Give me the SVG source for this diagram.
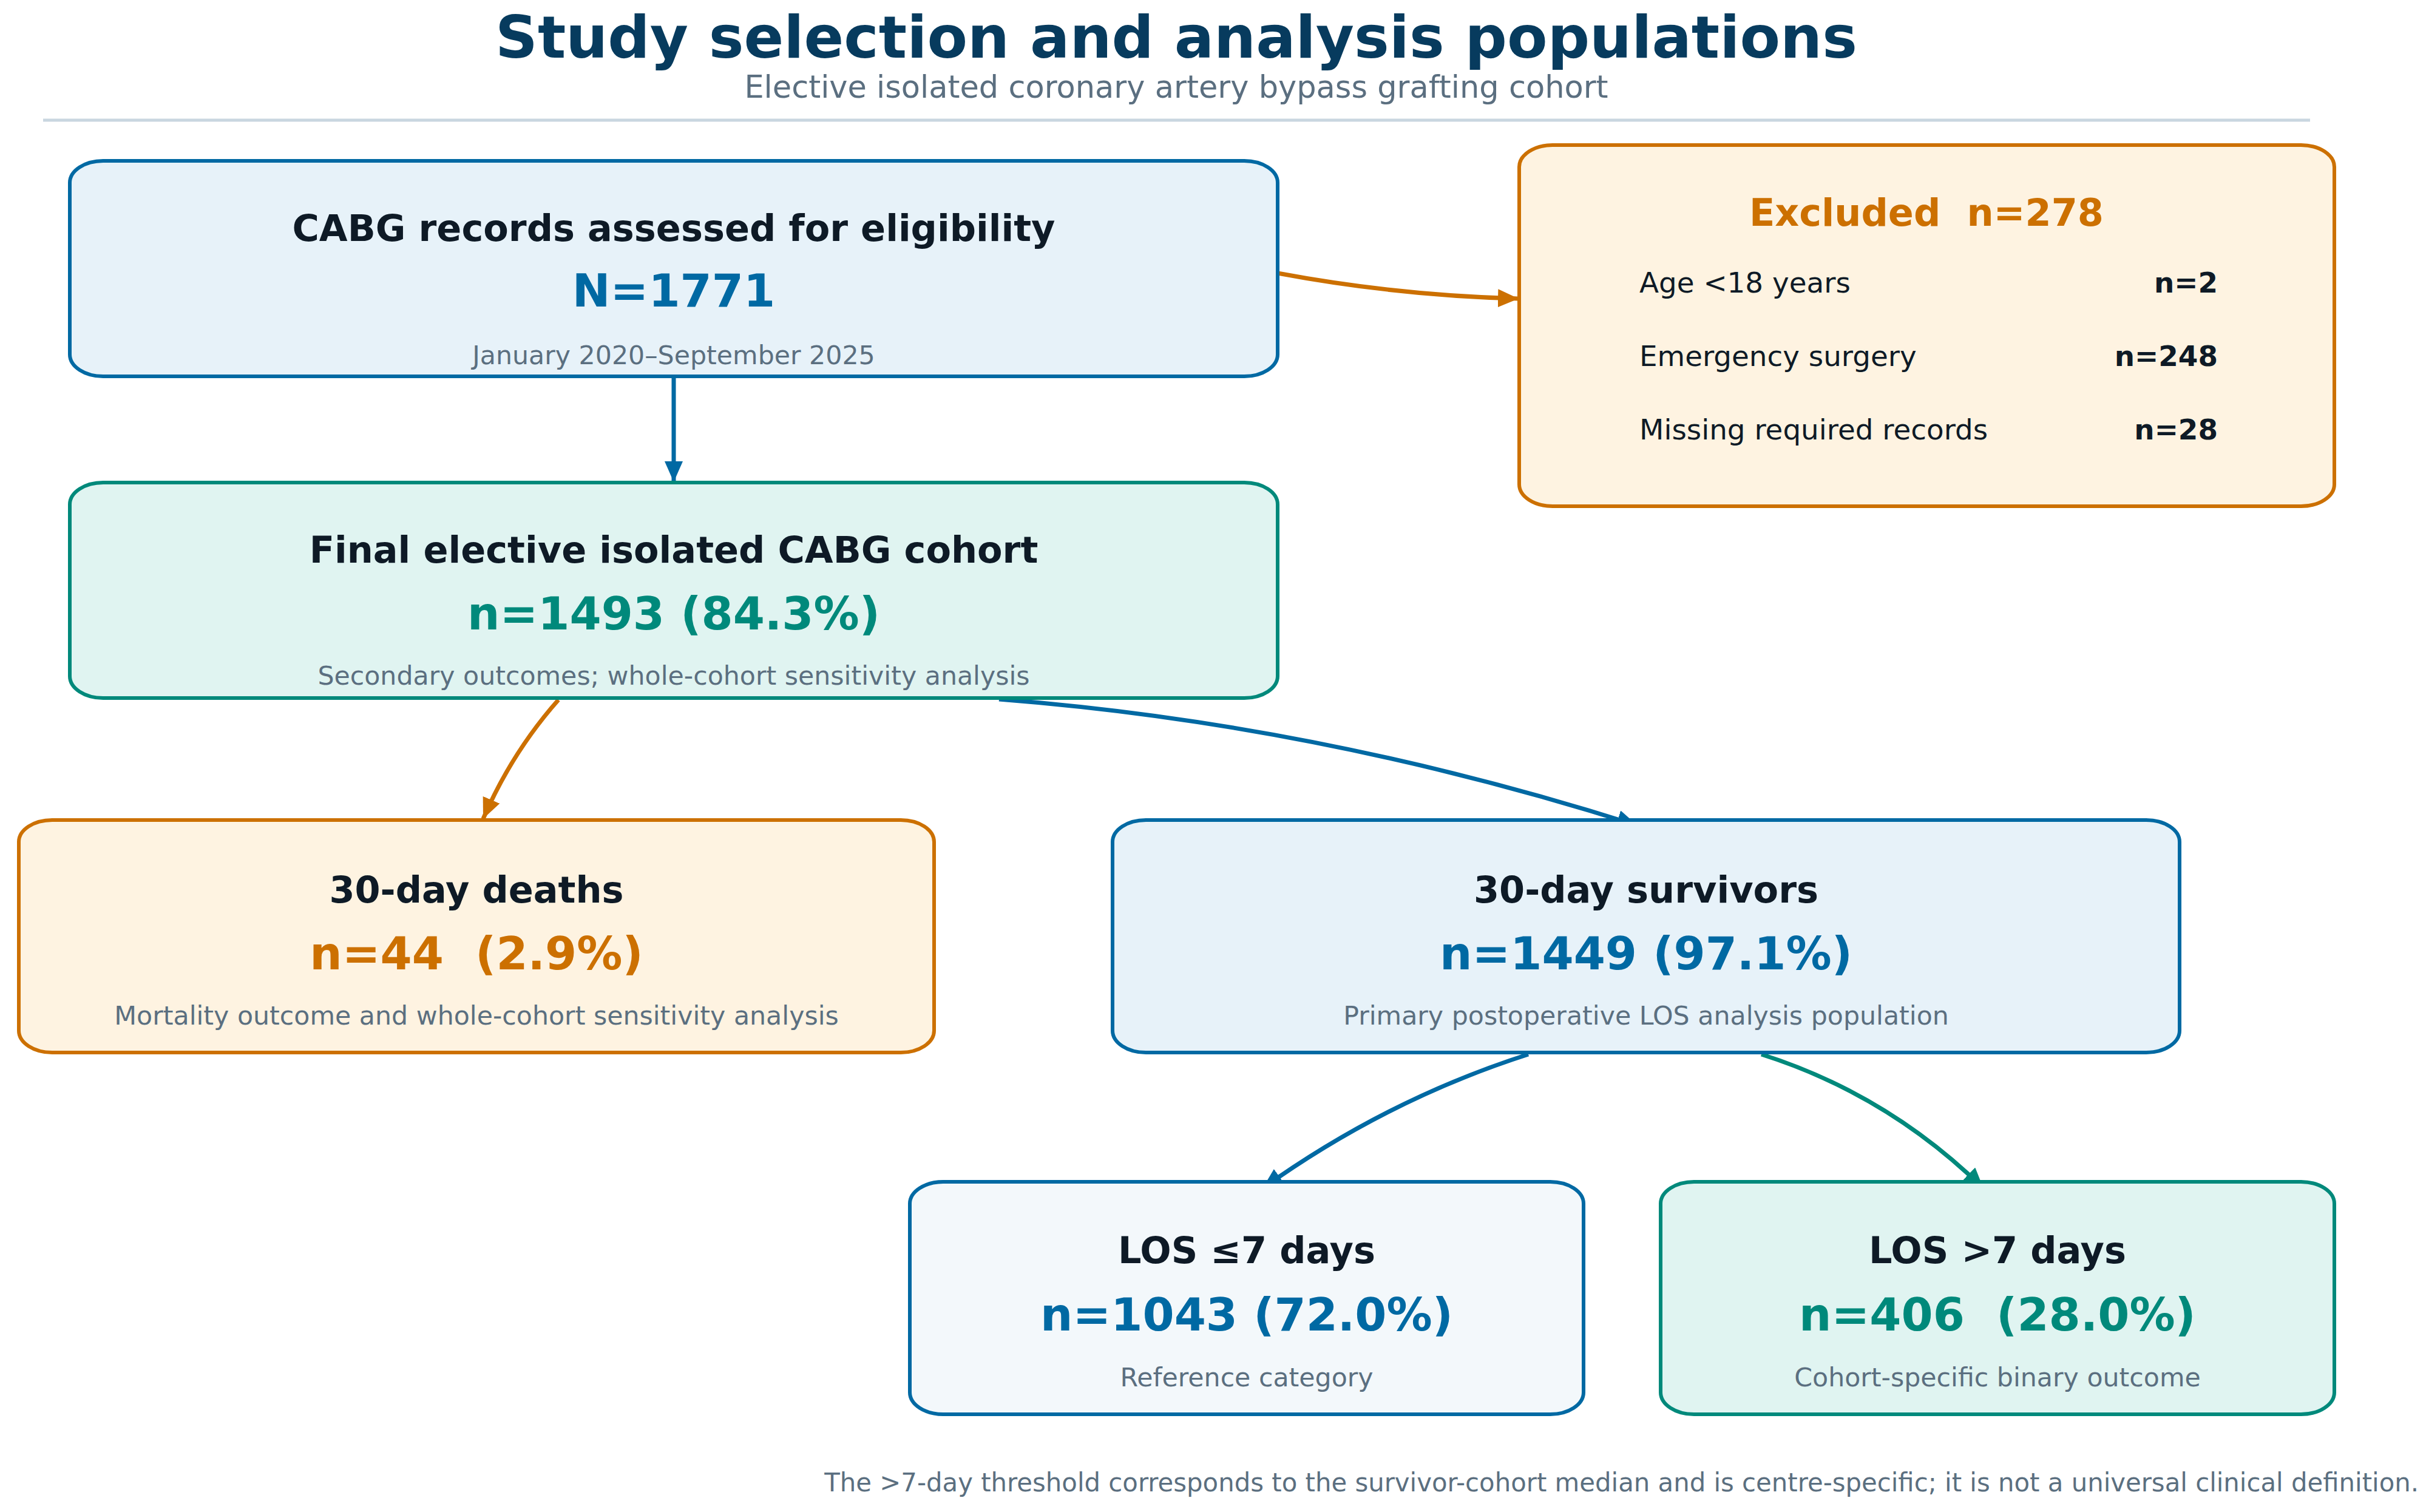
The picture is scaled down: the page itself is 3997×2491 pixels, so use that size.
<svg xmlns="http://www.w3.org/2000/svg" width="3997" height="2491" viewBox="0 0 3997 2491">
<style>
text{font-family:"DejaVu Sans","Liberation Sans",sans-serif;}
.title{font-size:97px;font-weight:bold;fill:#073b5e;text-anchor:middle;}
.subtitle{font-size:51px;fill:#5b6f80;text-anchor:middle;}
.bt{font-size:60.5px;font-weight:bold;fill:#0e1a26;text-anchor:middle;}
.num{font-size:75px;font-weight:bold;text-anchor:middle;white-space:pre;}
.sub{font-size:42.7px;fill:#5b6f80;text-anchor:middle;}
.row{font-size:46.8px;fill:#0e1a26;}
.rown{font-size:46.8px;font-weight:bold;fill:#0e1a26;text-anchor:end;}
.foot{font-size:41.8px;fill:#5b6f80;text-anchor:end;}
.blue{fill:#0069a3;}
.teal{fill:#00897b;}
.orange{fill:#cc7000;}
.bbox{fill:#e7f2f9;stroke:#0069a3;stroke-width:6;}
.tbox{fill:#e0f4f1;stroke:#00897b;stroke-width:6;}
.obox{fill:#fef3e1;stroke:#cc7000;stroke-width:6;}
.lbox{fill:#f3f8fb;stroke:#0069a3;stroke-width:6;}
.c{fill:none;stroke-width:7;}
.cb{stroke:#0069a3;marker-end:url(#ab);}
.co{stroke:#cc7000;marker-end:url(#ao);}
.ct{stroke:#00897b;marker-end:url(#at);}
</style>
<defs>
<marker id="ab" markerUnits="userSpaceOnUse" markerWidth="34" markerHeight="30" viewBox="0 0 34 30" refX="34" refY="15" orient="auto"><path d="M0,0 L34,15 L0,30 z" fill="#0069a3"/></marker>
<marker id="ao" markerUnits="userSpaceOnUse" markerWidth="34" markerHeight="30" viewBox="0 0 34 30" refX="34" refY="15" orient="auto"><path d="M0,0 L34,15 L0,30 z" fill="#cc7000"/></marker>
<marker id="at" markerUnits="userSpaceOnUse" markerWidth="34" markerHeight="30" viewBox="0 0 34 30" refX="34" refY="15" orient="auto"><path d="M0,0 L34,15 L0,30 z" fill="#00897b"/></marker>
</defs>
<rect x="0" y="0" width="3997" height="2491" fill="#ffffff"/>
<g id="header">
<text class="title" x="1938" y="95">Study selection and analysis populations</text>
<text class="subtitle" x="1938" y="161">Elective isolated coronary artery bypass grafting cohort</text>
<line x1="71" y1="198" x2="3806" y2="198" stroke="#c9d6e0" stroke-width="5"/>
</g>
<g id="connectors">
<path class="c cb" d="M1110,622 L1110,794"/>
<path class="c co" d="M2105,450 Q2303,487 2502,492"/>
<path class="c co" d="M920,1153 Q843,1240 796,1349"/>
<path class="c cb" d="M1646,1152 Q2173,1193 2698,1360"/>
<path class="c cb" d="M2518,1737 Q2284,1812 2080,1958"/>
<path class="c ct" d="M2902,1737 Q3110,1803 3268,1958"/>
</g>
<g id="n_assessed">
<rect class="bbox" x="115" y="265" width="1990" height="355" rx="55" ry="36"/>
<text class="bt" x="1110" y="397">CABG records assessed for eligibility</text>
<text class="num blue" x="1110" y="505">N=1771</text>
<text class="sub" x="1110" y="600">January 2020–September 2025</text>
</g>
<g id="n_excluded">
<rect class="obox" x="2503" y="239" width="1343" height="595" rx="55" ry="36"/>
<text class="bt orange" x="3174" y="372" style="white-space:pre;font-size:62px">Excluded  n=278</text>
<text class="row" x="2701" y="482">Age &lt;18 years</text>
<text class="rown" x="3654" y="482">n=2</text>
<text class="row" x="2701" y="603">Emergency surgery</text>
<text class="rown" x="3654" y="603">n=248</text>
<text class="row" x="2701" y="724">Missing required records</text>
<text class="rown" x="3654" y="724">n=28</text>
</g>
<g id="n_final">
<rect class="tbox" x="115" y="795" width="1990" height="355" rx="55" ry="36"/>
<text class="bt" x="1110" y="927">Final elective isolated CABG cohort</text>
<text class="num teal" x="1110" y="1037">n=1493 (84.3%)</text>
<text class="sub" x="1110" y="1128">Secondary outcomes; whole-cohort sensitivity analysis</text>
</g>
<g id="n_deaths">
<rect class="obox" x="31" y="1351" width="1508" height="383" rx="55" ry="36"/>
<text class="bt" x="785" y="1487">30-day deaths</text>
<text class="num orange" x="785" y="1597">n=44  (2.9%)</text>
<text class="sub" x="785" y="1688">Mortality outcome and whole-cohort sensitivity analysis</text>
</g>
<g id="n_survivors">
<rect class="bbox" x="1833" y="1351" width="1758" height="383" rx="55" ry="36"/>
<text class="bt" x="2712" y="1487">30-day survivors</text>
<text class="num blue" x="2712" y="1597">n=1449 (97.1%)</text>
<text class="sub" x="2712" y="1688">Primary postoperative LOS analysis population</text>
</g>
<g id="n_los_le7">
<rect class="lbox" x="1499" y="1947" width="1110" height="383" rx="55" ry="36"/>
<text class="bt" x="2054" y="2081">LOS ≤7 days</text>
<text class="num blue" x="2054" y="2192">n=1043 (72.0%)</text>
<text class="sub" x="2054" y="2284">Reference category</text>
</g>
<g id="n_los_gt7">
<rect class="tbox" x="2736" y="1947" width="1110" height="383" rx="55" ry="36"/>
<text class="bt" x="3291" y="2081">LOS &gt;7 days</text>
<text class="num teal" x="3291" y="2192">n=406  (28.0%)</text>
<text class="sub" x="3291" y="2284">Cohort-specific binary outcome</text>
</g>
<g id="footnote">
<text class="foot" x="3985" y="2457">The &gt;7-day threshold corresponds to the survivor-cohort median and is centre-specific; it is not a universal clinical definition.</text>
</g>
</svg>
